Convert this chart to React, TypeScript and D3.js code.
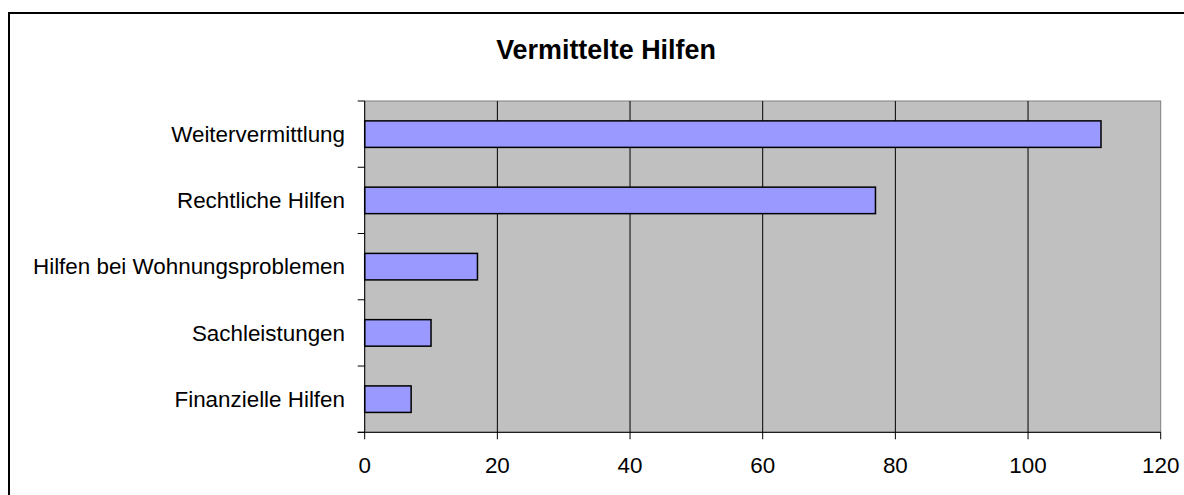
import React from "react";
import * as d3 from "d3";

const categories = [
  "Weitervermittlung",
  "Rechtliche Hilfen",
  "Hilfen bei Wohnungsproblemen",
  "Sachleistungen",
  "Finanzielle Hilfen",
];
const values = [111, 77, 17, 10, 7];
const xTicks = [0, 20, 40, 60, 80, 100, 120];
const title = "Vermittelte Hilfen";

const W = 1184;
const H = 495;
const plot = { left: 364.7, right: 1160.7, top: 101, bottom: 432.3 };
const FONT = "'Liberation Sans', Arial, sans-serif";

export default function App() {
  const x = d3.scaleLinear().domain([0, 120]).range([plot.left, plot.right]);
  const y = d3
    .scaleBand<string>()
    .domain(categories)
    .range([plot.top, plot.bottom])
    .paddingInner(0)
    .paddingOuter(0);
  const bw = y.bandwidth();
  const barH = bw * 0.4;
  const bounds = d3.range(categories.length + 1).map((i) => plot.top + i * bw);

  return (
    <div style={{ position: "fixed", left: 0, top: 0, width: W, height: H, overflow: "hidden", background: "#fff" }}>
      <svg width={W} height={H} style={{ display: "block" }}>
        <rect x={0} y={0} width={W} height={H} fill="#fff" />
        <path d={`M9,${H} V13 H${W}`} fill="none" stroke="#000" strokeWidth={2} />
        <text
          x={606}
          y={59}
          textAnchor="middle"
          fontFamily={FONT}
          fontWeight="bold"
          fontSize={26.9}
          fill="#000"
        >
          {title}
        </text>
        <rect
          x={plot.left}
          y={plot.top}
          width={plot.right - plot.left}
          height={plot.bottom - plot.top}
          fill="#C0C0C0"
          stroke="#808080"
          strokeWidth={1}
        />
        {xTicks.slice(1, -1).map((t) => (
          <line key={t} x1={x(t)} x2={x(t)} y1={plot.top} y2={plot.bottom} stroke="#000" strokeWidth={1} />
        ))}
        {categories.map((c, i) => {
          const yc = (y(c) as number) + bw / 2;
          return (
            <rect
              key={c}
              x={x(0)}
              y={yc - barH / 2}
              width={x(values[i]) - x(0)}
              height={barH}
              fill="#9999FF"
              stroke="#000"
              strokeWidth={1.5}
            />
          );
        })}
        <line x1={plot.left} x2={plot.left} y1={plot.top} y2={plot.bottom} stroke="#000" strokeWidth={1} />
        <line x1={plot.left - 7} x2={plot.right} y1={plot.bottom} y2={plot.bottom} stroke="#000" strokeWidth={1} />
        {bounds.map((b, i) => (
          <line key={i} x1={plot.left - 7} x2={plot.left} y1={b} y2={b} stroke="#000" strokeWidth={1} />
        ))}
        {xTicks.map((t) => (
          <g key={t}>
            <line x1={x(t)} x2={x(t)} y1={plot.bottom} y2={plot.bottom + 7} stroke="#000" strokeWidth={1} />
            <text x={x(t)} y={473} textAnchor="middle" fontFamily={FONT} fontSize={22.4} fill="#000">
              {t}
            </text>
          </g>
        ))}
        {categories.map((c) => (
          <text
            key={c}
            x={345}
            y={(y(c) as number) + bw / 2}
            dy="0.35em"
            textAnchor="end"
            fontFamily={FONT}
            fontSize={22.4}
            fill="#000"
          >
            {c}
          </text>
        ))}
      </svg>
    </div>
  );
}
